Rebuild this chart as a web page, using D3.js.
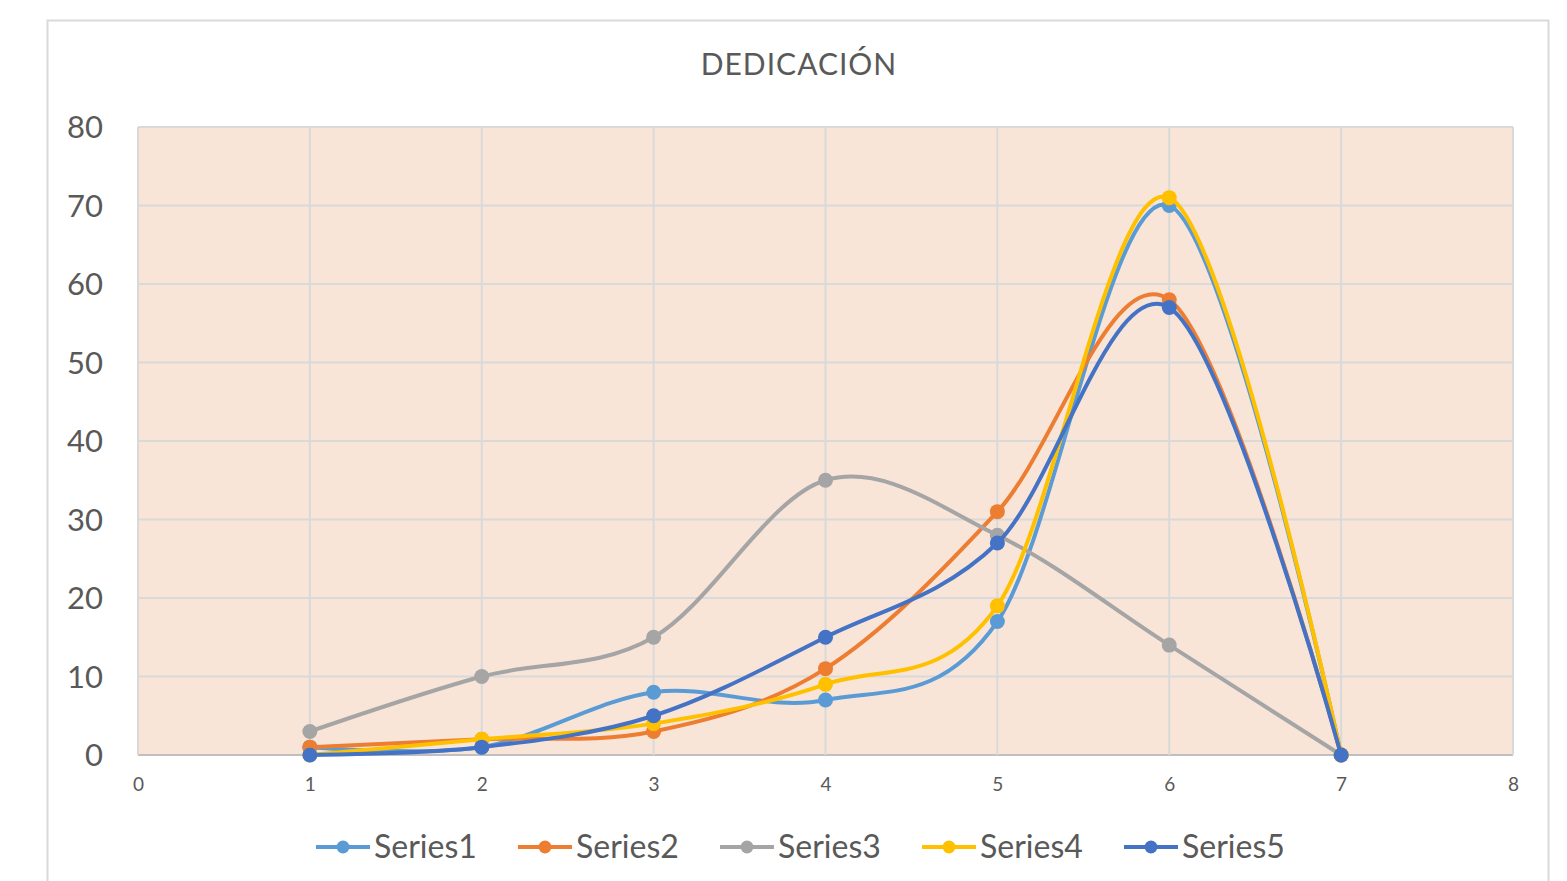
<!DOCTYPE html>
<html>
<head>
<meta charset="utf-8">
<script src="https://cdn.jsdelivr.net/npm/d3@7"></script>
<style>
    body { margin: 0; background: #fff; }
    text { font-family: Lato, "Open Sans", sans-serif; fill: #595959; }
</style>
</head>
<body>
<div id="chart"></div>
<script>
// values
const xValues = [1, 2, 3, 4, 5, 6, 7];
const series1 = [1, 1, 8, 7, 17, 70, 0];
const series2 = [1, 2, 3, 11, 31, 58, 0];
const series3 = [3, 10, 15, 35, 28, 14, 0];
const series4 = [0, 2, 4, 9, 19, 71, 0];
const series5 = [0, 1, 5, 15, 27, 57, 0];
const seriesNames = ['Series1', 'Series2', 'Series3', 'Series4', 'Series5'];
const seriesColors = ['#5B9BD5', '#ED7D31', '#A5A5A5', '#FFC000', '#4472C4'];
const xTicks = [0, 1, 2, 3, 4, 5, 6, 7, 8];
const yTicks = [0, 10, 20, 30, 40, 50, 60, 70, 80];

const width = 1567;
const height = 881;
const plot = { left: 138, right: 1513, top: 127, bottom: 755 };

const svg = d3.select('#chart')
    .append('svg')
    .attr('width', width)
    .attr('height', height);

// outer chart border
svg.append('rect')
    .attr('x', 47.5).attr('y', 20.5)
    .attr('width', 1501).attr('height', 900)
    .attr('fill', '#fff')
    .attr('stroke', '#d9d9d9')
    .attr('stroke-width', 2);

const x = d3.scaleLinear().domain([0, 8]).range([plot.left, plot.right]);
const y = d3.scaleLinear().domain([0, 80]).range([plot.bottom, plot.top]);

svg.append('rect')
    .attr('x', plot.left).attr('y', plot.top)
    .attr('width', plot.right - plot.left)
    .attr('height', plot.bottom - plot.top)
    .attr('fill', '#F8E5D8');

// gridlines
svg.append('g')
    .selectAll('line.h')
    .data(yTicks)
    .enter().append('line')
    .attr('x1', plot.left).attr('x2', plot.right)
    .attr('y1', d => y(d)).attr('y2', d => y(d))
    .attr('stroke', d => d === 0 ? '#bfbfbf' : '#d9d9d9')
    .attr('stroke-width', 2);

svg.append('g')
    .selectAll('line.v')
    .data(xTicks)
    .enter().append('line')
    .attr('x1', d => x(d)).attr('x2', d => x(d))
    .attr('y1', plot.top).attr('y2', plot.bottom)
    .attr('stroke', '#d9d9d9')
    .attr('stroke-width', 2);

// axes (labels only, Excel style)
const yAxis = svg.append('g')
    .attr('transform', `translate(${plot.left - 35},0)`)
    .call(d3.axisLeft(y).tickValues(yTicks).tickSize(0).tickPadding(0));
yAxis.select('.domain').remove();
yAxis.selectAll('text')
    .style('font-size', '31px')
    .attr('dy', '0.35em');

const xAxis = svg.append('g')
    .attr('transform', `translate(0,${plot.bottom + 22})`)
    .call(d3.axisBottom(x).tickValues(xTicks).tickSize(0).tickPadding(0));
xAxis.select('.domain').remove();
xAxis.selectAll('text')
    .style('font-size', '19px');

// title
svg.append('text')
    .attr('x', 799).attr('y', 75)
    .attr('text-anchor', 'middle')
    .style('font-size', '30px')
    .style('letter-spacing', '1px')
    .text('DEDICACIÓN');

const allSeries = [series1, series2, series3, series4, series5];

const line = d3.line()
    .x((d, i) => x(xValues[i]))
    .y(d => y(d))
    .curve(d3.curveCardinal.tension(0));

allSeries.forEach((vals, k) => {
    const g = svg.append('g');
    g.append('path')
        .datum(vals)
        .attr('d', line)
        .attr('fill', 'none')
        .attr('stroke', seriesColors[k])
        .attr('stroke-width', 4)
        .attr('stroke-linejoin', 'round');
    g.selectAll('circle')
        .data(vals)
        .enter().append('circle')
        .attr('cx', (d, i) => x(xValues[i]))
        .attr('cy', d => y(d))
        .attr('r', 7.5)
        .attr('fill', seriesColors[k]);
});

// legend
const legend = svg.append('g').attr('transform', 'translate(316,847)');
seriesNames.forEach((name, k) => {
    const item = legend.append('g').attr('transform', `translate(${k * 202},0)`);
    item.append('line')
        .attr('x1', 0).attr('x2', 54)
        .attr('y1', 0).attr('y2', 0)
        .attr('stroke', seriesColors[k])
        .attr('stroke-width', 4);
    item.append('circle')
        .attr('cx', 27).attr('cy', 0).attr('r', 6.5)
        .attr('fill', seriesColors[k]);
    item.append('text')
        .attr('x', 58).attr('y', 0)
        .attr('dy', '0.35em')
        .style('font-size', '32px')
        .text(name);
});
</script>
</body>
</html>
